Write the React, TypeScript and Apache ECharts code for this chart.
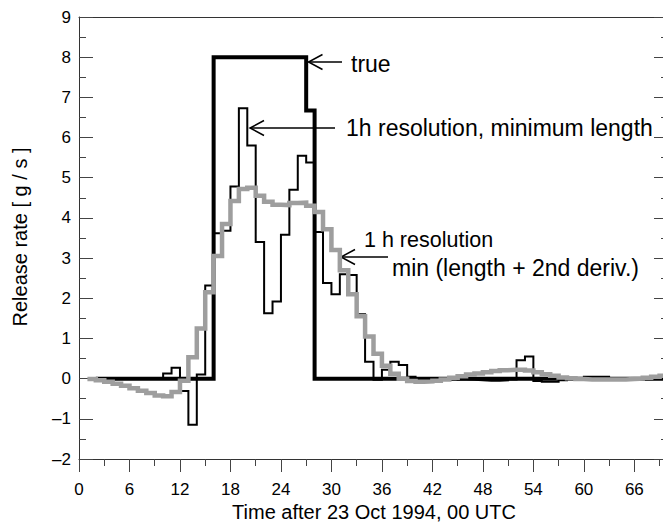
import React, { useEffect, useRef } from "react";
import * as echarts from "echarts";

// ---- data (hours after 23 Oct 1994, 00 UTC; release rate in g/s) ----
// "true" release: step breakpoints (value holds until next breakpoint)
const trueTimes = [2, 16, 27, 28, 70];
const trueValues = [0, 8, 6.67, 0, 0];

// 1h resolution, minimum length: hourly values starting at hour 2
const minLengthStart = 2;
const minLengthValues = [
  0, 0, 0, 0, 0, 0, 0, 0, 0.13, 0.27, -0.31, -1.15, 0.1, 2.32, 3.62, 3.68,
  4.78, 6.73, 5.8, 3.4, 1.63, 1.92, 3.58, 4.7, 5.55, 5.38, 3.65, 2.38, 2.1,
  2.6, 2.58, 1.6, 0.42, -0.03, 0.22, 0.42, 0.34, 0.05, 0.01, 0, 0, 0, 0,
  -0.02, -0.03, -0.04, -0.05, -0.05, -0.04, -0.02, 0.46, 0.55, -0.06, -0.08,
  -0.08, -0.04, 0, 0, 0.05, 0.05, 0.05, 0.01, 0, 0, 0, 0, 0.03, 0.03,
];

// 1 h resolution, min (length + 2nd deriv.): hourly values starting at hour 1
const smoothStart = 1;
const smoothValues = [
  -0.01, -0.04, -0.08, -0.13, -0.18, -0.24, -0.3, -0.36, -0.42, -0.44, -0.33,
  -0.05, 0.53, 1.25, 2.15, 3.05, 3.85, 4.42, 4.72, 4.75, 4.55, 4.4, 4.33, 4.32,
  4.37, 4.38, 4.3, 4.15, 3.72, 3.2, 2.7, 2.1, 1.55, 1.05, 0.62, 0.32, 0.12, 0.0,
  -0.06, -0.08, -0.07, -0.05, -0.02, 0.02, 0.06, 0.1, 0.13, 0.16, 0.19, 0.21,
  0.22, 0.22, 0.2, 0.16, 0.11, 0.07, 0.03, 0.01, -0.01, -0.02, -0.02, -0.02,
  -0.02, -0.02, -0.01, 0, 0.02, 0.05, 0.07,
];
const endHour = 70;

const xMin = 0;
const xMax = 70;
const yMin = -2;
const yMax = 9;

const FONT = "'Liberation Sans', Arial, Helvetica, sans-serif";

function hourly(start: number, vals: number[], end: number): number[][] {
  const pts = vals.map((v, i) => [start + i, v]);
  pts.push([end, vals[vals.length - 1]]);
  return pts;
}

function breakpoints(times: number[], vals: number[]): number[][] {
  return times.map((t, i) => [t, vals[i]]);
}

export default function App() {
  const ref = useRef<HTMLDivElement>(null);

  useEffect(() => {
    document.body.style.margin = "0";
    if (!ref.current) return;
    const chart = echarts.init(ref.current, undefined, { renderer: "svg" });

    const gridPos = { left: 79, right: 12, top: 17, bottom: 68 };
    const axisColor = "#333";

    const arrow = (tipX: number, tipY: number, tailX: number) => [
      {
        type: "line",
        shape: { x1: tipX, y1: tipY, x2: tailX, y2: tipY },
        style: { stroke: "#000", lineWidth: 1.5 },
        silent: true,
      },
      {
        type: "polyline",
        shape: {
          points: [
            [tipX + 14, tipY - 7.5],
            [tipX, tipY],
            [tipX + 14, tipY + 7.5],
          ],
        },
        style: { stroke: "#000", lineWidth: 1.5, fill: "none" },
        silent: true,
      },
    ];

    const text = (
      s: string,
      x: number,
      y: number,
      size: number,
      align = "left",
      rotation = 0
    ) => ({
      type: "text",
      x,
      y,
      rotation,
      silent: true,
      style: {
        text: s,
        fontSize: size,
        fontFamily: FONT,
        fill: "#000",
        align,
        verticalAlign: "middle",
        textAlign: align,
        textVerticalAlign: "middle",
      },
    });

    chart.setOption({
      animation: false,
      backgroundColor: "#fff",
      grid: [
        { ...gridPos, containLabel: false },
        { ...gridPos, containLabel: false },
      ],
      xAxis: [
        {
          type: "value",
          gridIndex: 0,
          position: "bottom",
          min: xMin,
          max: xMax,
          interval: 6,
          axisLine: { show: true, onZero: false, lineStyle: { color: axisColor, width: 1 } },
          axisTick: { show: true, inside: false, length: 13, lineStyle: { color: "#444" } },
          axisLabel: {
            show: true,
            margin: 22,
            fontSize: 17,
            fontFamily: FONT,
            color: "#000",
            formatter: (v: number) => (v % 6 === 0 && v <= 66 ? String(v) : ""),
          },
          splitLine: { show: false },
        },
        {
          type: "value",
          gridIndex: 0,
          position: "top",
          min: xMin,
          max: xMax,
          interval: 6,
          axisLine: { show: true, onZero: false, lineStyle: { color: axisColor, width: 1 } },
          axisTick: { show: false },
          axisLabel: { show: false },
          splitLine: { show: false },
        },
        {
          type: "value",
          gridIndex: 1,
          position: "bottom",
          min: xMin,
          max: xMax,
          interval: 3,
          axisLine: { show: false, onZero: false },
          axisTick: { show: true, inside: false, length: 7, lineStyle: { color: "#444" } },
          axisLabel: { show: false },
          splitLine: { show: false },
        },
      ],
      yAxis: [
        {
          type: "value",
          gridIndex: 0,
          position: "left",
          min: yMin,
          max: yMax,
          interval: 1,
          axisLine: { show: true, onZero: false, lineStyle: { color: axisColor, width: 1 } },
          axisTick: { show: true, inside: true, length: 14, lineStyle: { color: "#444" } },
          minorTick: { show: true, splitNumber: 2, length: 7, lineStyle: { color: "#444" } },
          axisLabel: {
            show: true,
            margin: 8,
            fontSize: 17,
            fontFamily: FONT,
            color: "#000",
            formatter: (v: number) => String(v).replace("-", "\u2013"),
          },
          splitLine: { show: false },
          minorSplitLine: { show: false },
        },
        {
          type: "value",
          gridIndex: 0,
          position: "right",
          min: yMin,
          max: yMax,
          interval: 1,
          axisLine: { show: true, onZero: false, lineStyle: { color: axisColor, width: 1 } },
          axisTick: { show: true, inside: true, length: 14, lineStyle: { color: "#444" } },
          minorTick: { show: true, splitNumber: 2, length: 7, lineStyle: { color: "#444" } },
          axisLabel: { show: false },
          splitLine: { show: false },
        },
        {
          type: "value",
          gridIndex: 1,
          min: yMin,
          max: yMax,
          show: false,
          splitLine: { show: false },
        },
      ],
      series: [
        {
          name: "true",
          type: "line",
          xAxisIndex: 0,
          yAxisIndex: 0,
          step: "end",
          data: breakpoints(trueTimes, trueValues),
          showSymbol: false,
          symbol: "none",
          silent: true,
          z: 2,
          lineStyle: { color: "#000", width: 4, join: "miter", cap: "butt" },
        },
        {
          name: "1h resolution, minimum length",
          type: "line",
          xAxisIndex: 0,
          yAxisIndex: 0,
          step: "end",
          data: hourly(minLengthStart, minLengthValues, endHour),
          showSymbol: false,
          symbol: "none",
          silent: true,
          z: 3,
          lineStyle: { color: "#000", width: 2, join: "miter", cap: "butt" },
        },
        {
          name: "1 h resolution min (length + 2nd deriv.)",
          type: "line",
          xAxisIndex: 0,
          yAxisIndex: 0,
          step: "end",
          data: hourly(smoothStart, smoothValues, endHour),
          showSymbol: false,
          symbol: "none",
          silent: true,
          z: 4,
          lineStyle: { color: "#9e9e9e", width: 4.5, join: "miter", cap: "butt" },
        },
      ],
      graphic: [
        text("Time after 23 Oct 1994, 00 UTC", 374, 512, 20, "center"),
        text("Release rate [ g / s ]", 20, 237, 20, "center", Math.PI / 2),
        text("true", 351, 64, 23),
        ...arrow(308.5, 62, 342),
        text("1h resolution, minimum length", 346, 128, 23),
        ...arrow(250, 128, 335),
        text("1 h resolution", 364, 240, 21.5),
        text("min (length + 2nd deriv.)", 392, 268, 23),
        ...arrow(341, 257, 388),
      ],
    });

    return () => {
      chart.dispose();
    };
  }, []);

  return (
    <div style={{ width: 663, height: 527, overflow: "hidden", position: "relative", background: "#fff" }}>
      <div ref={ref} style={{ width: 680, height: 527 }} />
    </div>
  );
}
